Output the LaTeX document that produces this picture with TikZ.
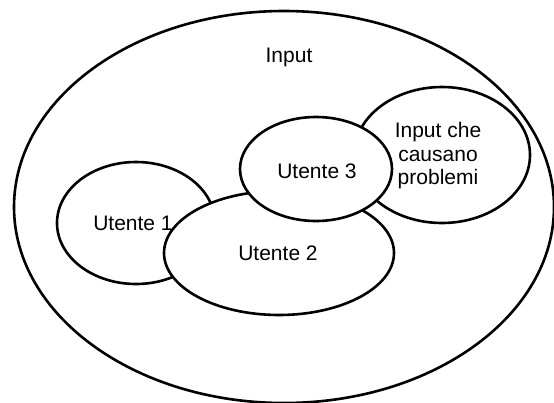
\documentclass[tikz,border=0pt]{standalone}
\usepackage{fontspec}
\setmainfont{Liberation Sans}
\usetikzlibrary{shapes.geometric}
\begin{document}
\begin{tikzpicture}[x=1pt,y=-1pt,
  blob/.style={draw=black, line width=2.6pt, fill=white, ellipse, inner sep=0pt},
  lbl/.style={font=\fontsize{21}{23.5}\selectfont, align=center, inner sep=0pt}]
\useasboundingbox (0,0) rectangle (554,402);
\node[blob, minimum width=540pt, minimum height=392pt] (all) at (284,207) {};
\node[blob, minimum width=158pt, minimum height=122pt] (u1) at (136,223) {};
\node[blob, minimum width=230pt, minimum height=124pt] (u2) at (279,253) {};
\node[blob, minimum width=176pt, minimum height=136pt] (ip) at (442,155) {};
\node[blob, minimum width=152pt, minimum height=104pt] (u3) at (316,169) {};
\node[lbl] (tall) at (289,57) {Input};
\node[lbl] (t1) at (133,223) {Utente 1};
\node[lbl] (t2) at (278,253) {Utente 2};
\node[lbl] (t3) at (317,171) {Utente 3};
\node[lbl] (tip) at (438,156) {Input che\\causano\\problemi};
\end{tikzpicture}
\end{document}
